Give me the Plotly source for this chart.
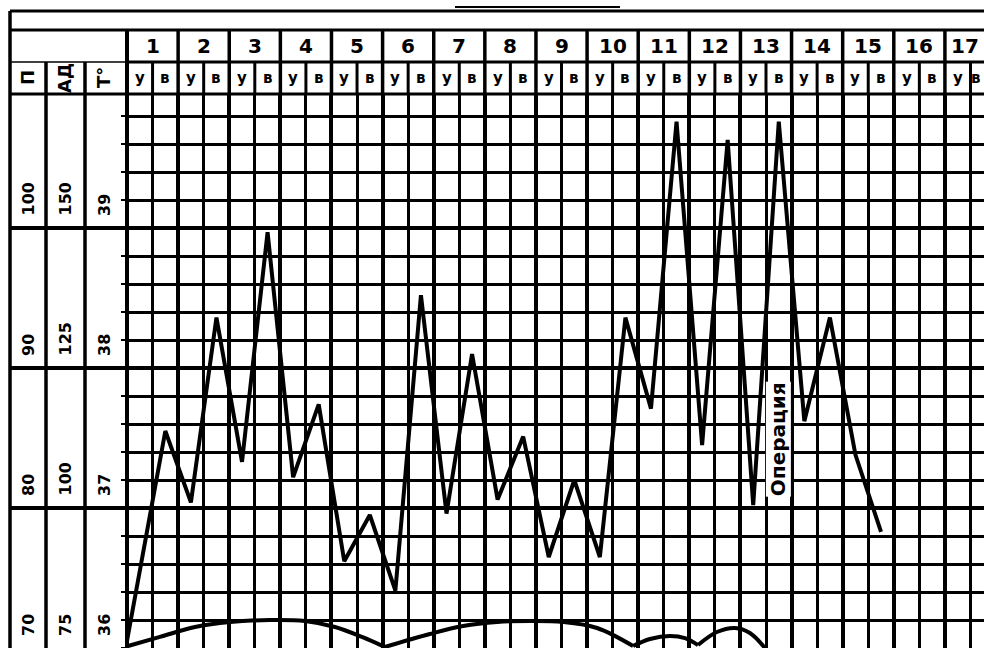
import plotly.graph_objects as go

# ---------------- data ----------------
days = list(range(1, 18))
half_labels = ["у", "в"]

# temperature readings (°C): start point, then day1 evening .. day15 evening
temp_slot = [0, 1.5, 2.5, 3.5, 4.5, 5.5, 6.5, 7.5, 8.5, 9.5, 10.5, 11.5, 12.5, 13.5, 14.5,
             15.5, 16.5, 17.5, 18.5, 19.5, 20.5, 21.5, 22.5, 23.5, 24.5, 25.5, 26.5, 27.5, 28.5, 29.5]
temps = [36.05, 37.55, 37.04, 38.36, 37.33, 38.97, 37.22, 37.74, 36.62, 36.95,
         36.41, 38.52, 36.96, 38.10, 37.06, 37.51, 36.65, 37.20, 36.65, 38.36,
         37.71, 39.76, 37.45, 39.63, 37.02, 39.76, 37.62, 38.36, 37.38, 36.83]

# lower curve (pulse scale), arcs separated by gaps
pulse_slot = [0.04, 1.29, 2.66, 4.03, 5.59, 6.96, 8.14, 9.19, 10.09, None,
              10.09, 11.85, 13.15, 14.48, 15.77, 17.06, 18.39, 19.8, None,
              19.8, 20.46, 21.24, 21.83, 22.34, None,
              22.34, 23.08, 23.79, 24.37, 24.96]
pulse = [70.14, 70.79, 71.5, 71.86, 72.0, 71.93, 71.5, 70.79, 70.07, None,
         70.07, 71.0, 71.57, 71.86, 71.93, 71.86, 71.43, 70.14, None,
         70.14, 70.64, 70.86, 70.71, 70.21, None,
         70.21, 71.14, 71.43, 71.07, 70.0]

p_labels = ["70", "80", "90", "100"]
ad_labels = ["75", "100", "125", "150"]
t_labels = ["36", "37", "38", "39"]
col_heads = ["П", "АД", "Т°"]
op_label = "Операция"
op_slot = 25.5
op_temp = 37.49

# ---------------- geometry (layout) ----------------
OFF = 0                     # body margin removed by post_script
WIN_W, WIN_H = 984, 648
W, H = WIN_W - OFF, WIN_H - OFF
GL, GT = 127, 95            # plot area left / top in window px
HALF = 25.56                # px per half-day
DEG = 140.0                 # px per degree
L, T = GL - OFF, GT - OFF
PW, PH = W - L, H - T
XMAX = PW / HALF
YMIN = 36.0
YMAX = YMIN + PH / DEG


def px(xw):
    return (xw - GL) / PW


def py(yw):
    return (WIN_H - yw) / PH


fig = go.Figure()
fig.add_trace(go.Scatter(x=pulse_slot, y=pulse, mode="lines", yaxis="y2",
                         line=dict(color="black", width=4, shape="spline", smoothing=1.0),
                         connectgaps=False, hoverinfo="skip", showlegend=False))
fig.add_trace(go.Scatter(x=temp_slot, y=temps, mode="lines",
                         line=dict(color="black", width=4), showlegend=False))

shapes = []


def hline(y, x0, x1, w):
    shapes.append(dict(type="line", xref="paper", yref="paper", x0=px(x0), x1=px(x1),
                       y0=py(y), y1=py(y), line=dict(color="black", width=w)))


def vline(x, y0, y1, w):
    shapes.append(dict(type="line", xref="paper", yref="paper", x0=px(x), x1=px(x),
                       y0=py(y0), y1=py(y1), line=dict(color="black", width=w)))


# frame and header
hline(11, 10, WIN_W, 3)
hline(30, 10, WIN_W, 3)
hline(62, GL, WIN_W, 3)
hline(62, 10, GL, 1.5)
hline(94, 10, WIN_W, 3)
hline(7, 455, 620, 2)
vline(10, 11, WIN_H, 3.5)
vline(46, 62, WIN_H, 3.5)
vline(85, 62, WIN_H, 3.5)
vline(GL, 30, WIN_H, 4)
for d in days:
    xb = GL + 2 * d * HALF
    vline(xb, 30, 94, 3.5)
    vline(xb - HALF, 62, 94, 3)
# integer-degree lines extended into the label columns
for k in range(1, 4):
    yk = WIN_H - k * DEG
    hline(yk, 10, GL, 4)

annotations = []
for d in days:
    annotations.append(dict(x=min(2 * d - 1, XMAX - 0.75), xref="x", y=py(46), yref="paper",
                            text=f"<b>{d}</b>", showarrow=False, xanchor="center", yanchor="middle",
                            font=dict(family="DejaVu Sans", size=20, color="black")))
    for j, lab in enumerate(half_labels):
        annotations.append(dict(x=min(2 * d - 1.5 + j, XMAX - 0.3), xref="x", y=py(78), yref="paper",
                                text=f"<b>{lab}</b>", showarrow=False, xanchor="center", yanchor="middle",
                                font=dict(family="DejaVu Sans", size=15, color="black")))

col_x = [28, 65, 104]
for cx, lab in zip(col_x, col_heads):
    annotations.append(dict(x=px(cx), xref="paper", y=py(78), yref="paper", text=f"<b>{lab}</b>",
                            textangle=-90, showarrow=False, xanchor="center", yanchor="middle",
                            font=dict(family="DejaVu Sans", size=18, color="black")))

for k in range(4):
    yk = WIN_H - k * DEG - 10
    for cx, labs in zip(col_x, [p_labels, ad_labels, t_labels]):
        annotations.append(dict(x=px(cx), xref="paper", y=py(yk), yref="paper",
                                text=f"<b>{labs[k]}</b>", textangle=-90, showarrow=False,
                                xanchor="center", yanchor="bottom",
                                font=dict(family="DejaVu Sans", size=16, color="black")))

annotations.append(dict(x=op_slot, xref="x", y=op_temp, yref="y", text=f"<b>{op_label}</b>",
                        textangle=-90, showarrow=False, bgcolor="white", borderpad=0,
                        xanchor="center", yanchor="middle",
                        font=dict(family="DejaVu Sans", size=20, color="black")))

fig.update_layout(
    width=W, height=H,
    margin=dict(l=L, r=0, t=T, b=0, pad=0),
    paper_bgcolor="white", plot_bgcolor="white",
    shapes=shapes, annotations=annotations,
    xaxis=dict(range=[0, XMAX], tick0=0, dtick=2, showgrid=True, gridcolor="black", gridwidth=3.5,
               showticklabels=False, zeroline=False, ticks="", showline=False,
               minor=dict(tick0=0, dtick=1, showgrid=True, gridcolor="black", gridwidth=3)),
    yaxis=dict(range=[YMIN, YMAX], tick0=36, dtick=1, showgrid=True, gridcolor="black", gridwidth=4,
               showticklabels=False, zeroline=False, ticks="outside", ticklen=5, tickwidth=3,
               tickcolor="black", showline=False,
               minor=dict(tick0=36, dtick=0.2, showgrid=True, gridcolor="black", gridwidth=2.5,
                          ticks="outside", ticklen=5, tickwidth=2, tickcolor="black")),
    yaxis2=dict(range=[70, 70 + (YMAX - YMIN) * 10], overlaying="y", visible=False),
)

fig.write_html("out.html", config={"displayModeBar": False},
               post_script="document.body.style.margin='0';document.body.style.overflow='hidden';")
